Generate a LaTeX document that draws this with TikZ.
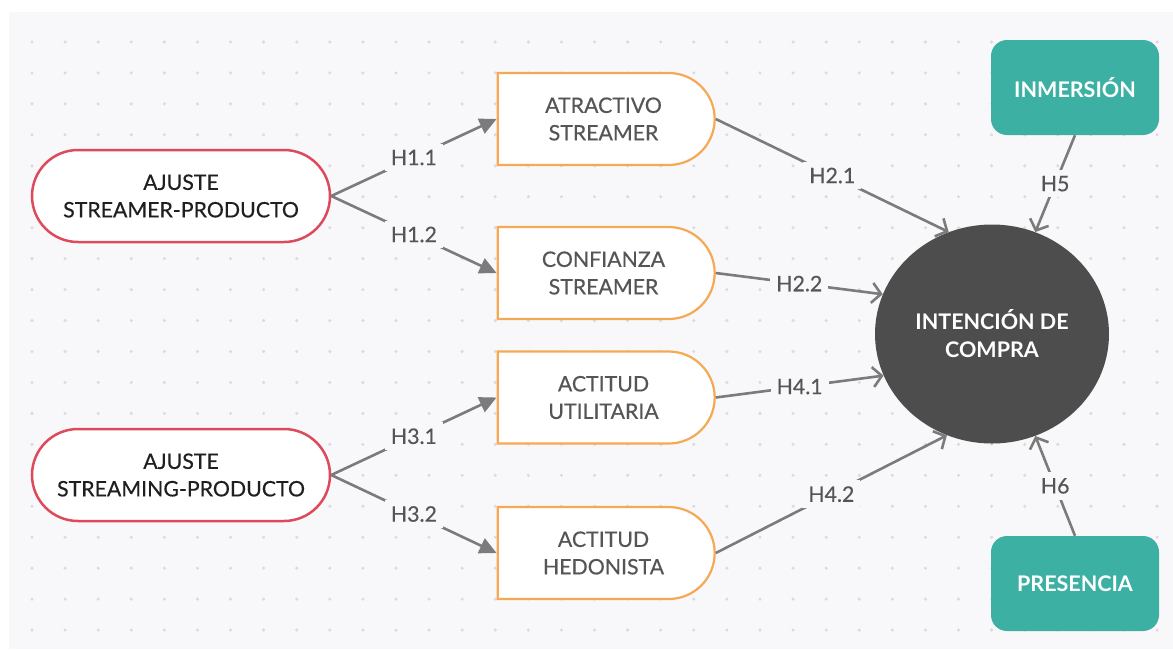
\documentclass[tikz,border=0pt]{standalone}
\usepackage{fontspec}
\setmainfont{Lato}
\newfontfamily\medfont[FakeBold=0.4]{Lato}
\usetikzlibrary{shapes.geometric,shapes.misc,arrows.meta}
\definecolor{bg}{HTML}{F8F8FA}
\definecolor{dotc}{HTML}{DADADF}
\definecolor{redb}{HTML}{DC4A5B}
\definecolor{orb}{HTML}{F6A954}
\definecolor{tealb}{HTML}{3CB0A3}
\definecolor{circ}{HTML}{4D4D4D}
\definecolor{linec}{HTML}{7B7B7B}
\definecolor{txt}{HTML}{555555}
\begin{document}
\begin{tikzpicture}[x=1pt,y=-1pt,
  nfont/.style={font=\medfont\fontsize{21.3}{27.5}\selectfont},
  pill/.style={rounded rectangle, draw=redb, line width=2.5pt, fill=white,
    minimum width=298pt, minimum height=92pt, align=center, text=black!88, nfont, inner sep=0pt},
  dbox/.style={rounded rectangle, rounded rectangle left arc=none, draw=orb, line width=2.2pt,
    fill=white, minimum width=217pt, minimum height=92pt, align=center, text=txt, nfont, inner sep=0pt},
  tbox/.style={rectangle, rounded corners=16pt, fill=tealb, minimum width=168pt, minimum height=95pt,
    text=white, font=\bfseries\fontsize{21.5}{27}\selectfont, inner sep=0pt},
  icirc/.style={ellipse, fill=circ, minimum width=234pt, minimum height=219pt, text=white,
    font=\bfseries\fontsize{21.5}{28}\selectfont, align=center, inner sep=0pt},
  lbl/.style={fill=bg, text=txt, font=\medfont\fontsize{21.3}{24}\selectfont, inner sep=6pt},
  fa/.style={draw=linec, line width=2.6pt, -{Triangle[length=17pt,width=16pt]}},
  oa/.style={draw=linec, line width=2.6pt, -{Straight Barb[length=9pt,width=20pt,line width=2.6pt]}},
]
\useasboundingbox (0,0) rectangle (1173,649);
\fill[white] (0,0) rectangle (1173,649);
\fill[bg] (9,12) rectangle (1173,649);
\foreach \i in {0,...,34} {
  \foreach \j in {0,...,19} {
    \fill[dotc] ({32+33.09*\i},{42+30.95*\j}) circle (1.7pt);
  }
}
\node[pill] (a1) at (181,196) {AJUSTE\\STREAMER-PRODUCTO};
\node[pill] (a2) at (181,475) {AJUSTE\\STREAMING-PRODUCTO};
\node[dbox] (b1) at (603.5,119) {ATRACTIVO\\STREAMER};
\node[dbox] (b2) at (603.5,273) {CONFIANZA\\STREAMER};
\node[dbox] (b3) at (603.5,397.5) {ACTITUD\\UTILITARIA};
\node[dbox] (b4) at (603.5,553) {ACTITUD\\HEDONISTA};
\node[icirc] (ic) at (992,334) {INTENCIÓN DE\\COMPRA};
\node[tbox] (t1) at (1075,87.5) {INMERSIÓN};
\node[tbox] (t2) at (1075,583.5) {PRESENCIA};

\draw[fa] (a1.east) -- node[lbl] {H1.1} (b1.west);
\draw[fa] (a1.east) -- node[lbl] {H1.2} (b2.west);
\draw[fa] (a2.east) -- node[lbl] {H3.1} (b3.west);
\draw[fa] (a2.east) -- node[lbl] {H3.2} (b4.west);

\draw[oa] (b1.east) -- node[lbl] {H2.1} (ic.113.8);
\draw[oa] (b2.east) -- node[lbl] {H2.2} (ic.160);
\draw[oa] (b3.east) -- node[lbl] {H4.1} (ic.201);
\draw[oa] (b4.east) -- node[lbl] {H4.2} (ic.246);
\draw[oa] (t1.south) -- node[lbl] {H5} (ic.67);
\draw[oa] (t2.north) -- node[lbl] {H6} (ic.293);
\end{tikzpicture}
\end{document}
